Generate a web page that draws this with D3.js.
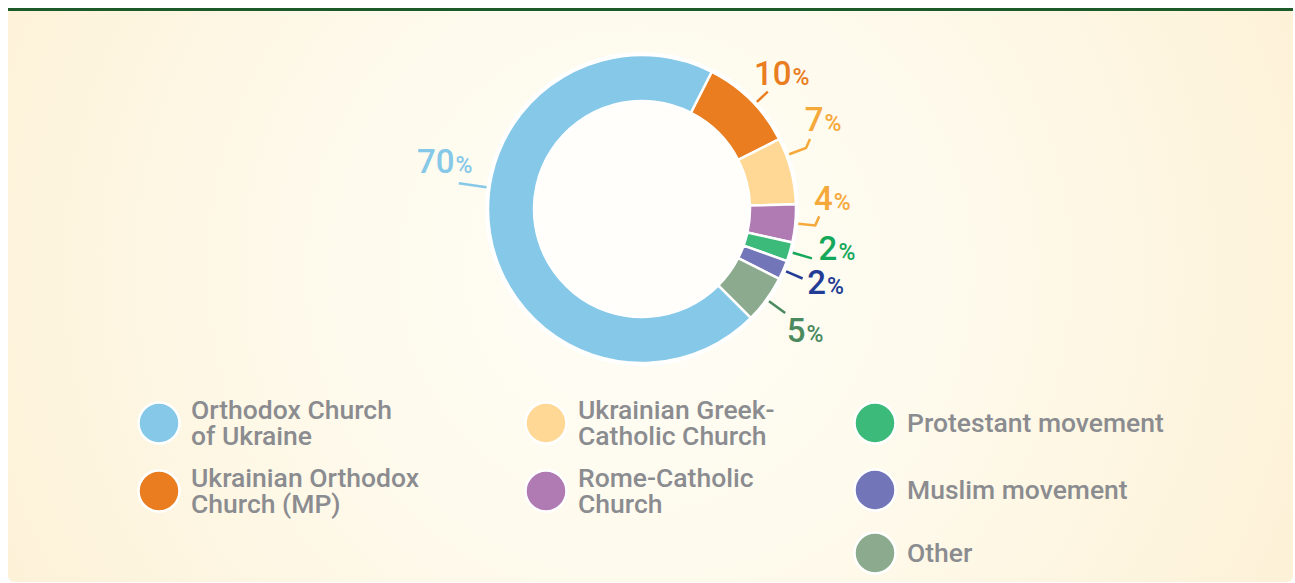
<!DOCTYPE html>
<html>
<head>
  <meta charset="utf-8">
  <title>Religious affiliation donut</title>
  <script src="https://cdnjs.cloudflare.com/ajax/libs/d3/7.8.5/d3.min.js"></script>
</head>
<style>
  body { margin: 0; background: #fff; }
  svg { display: block; font-family: Roboto, "Noto Sans", sans-serif; }
</style>
<body>
<svg id="chart" width="1295" height="583"></svg>
<script type="text/javascript">
// data
const categories = ['Orthodox Church of Ukraine', 'Ukrainian Orthodox Church (MP)', 'Ukrainian Greek-Catholic Church',
  'Rome-Catholic Church', 'Protestant movement', 'Muslim movement', 'Other'];
const values = [70, 10, 7, 4, 2, 2, 5];
const legendLines = [['Orthodox Church', 'of Ukraine'], ['Ukrainian Orthodox', 'Church (MP)'], ['Ukrainian Greek-', 'Catholic Church'],
  ['Rome-Catholic', 'Church'], ['Protestant movement'], ['Muslim movement'], ['Other']];

// styling
const sliceColors = ['#85c8e8', '#e97d1f', '#fed894', '#b07ab3', '#3cba7a', '#7375b9', '#8cab8e'];
const labelColors = ['#85c8e8', '#e97d1f', '#f6a93b', '#f6a93b', '#16a85a', '#233c95', '#4a8a5e'];
// label layout: angle shift (deg), leader length, elbow, text offset from leader end
const labelLayout = [
  {shift: 17, len: 28, elbow: null, dx: -14, dy: -10},
  {shift: 2, len: 15, elbow: null, dx: 14, dy: -7},
  {shift: -6, len: 18, elbow: [4, -9], dx: 13, dy: -8},
  {shift: 0, len: 17, elbow: [4, -9], dx: 13, dy: -6},
  {shift: 0, len: 20, elbow: null, dx: 25, dy: 2},
  {shift: 0, len: 18, elbow: null, dx: 23, dy: 15},
  {shift: 0, len: 20, elbow: null, dx: 20, dy: 29}
];

const W = 1295, H = 583;
const cx = 642, cy = 209;
const outerR = 154, innerR = 108;
const svg = d3.select('#chart');

// background panel
const defs = svg.append('defs');
const grad = defs.append('radialGradient').attr('id', 'bg')
  .attr('gradientUnits', 'userSpaceOnUse')
  .attr('cx', 640).attr('cy', 270).attr('r', 700);
grad.append('stop').attr('offset', '0%').attr('stop-color', '#fffdf7');
grad.append('stop').attr('offset', '45%').attr('stop-color', '#fefaec');
grad.append('stop').attr('offset', '100%').attr('stop-color', '#fdf2d8');

svg.append('rect').attr('x', 8).attr('y', 8).attr('width', 1285).attr('height', 574)
  .attr('rx', 6).attr('fill', 'url(#bg)');
svg.append('rect').attr('x', 8).attr('y', 8).attr('width', 1285).attr('height', 3)
  .attr('fill', '#1d5a2a');

// donut
const pie = d3.pie().sort(null).value(d => d)
  .startAngle(Math.PI * 3 / 4).endAngle(Math.PI * 3 / 4 + Math.PI * 2);
const arcs = pie(values);
const arc = d3.arc().innerRadius(innerR).outerRadius(outerR);

const g = svg.append('g').attr('transform', `translate(${cx},${cy})`);
g.append('circle').attr('r', innerR).attr('fill', '#fffefb');
g.append('circle').attr('r', outerR + 2).attr('fill', 'none').attr('stroke', '#fff').attr('stroke-width', 2);
g.selectAll('path.slice')
  .data(arcs)
  .enter()
  .append('path')
  .attr('class', 'slice')
  .attr('d', arc)
  .attr('fill', (d, i) => sliceColors[i])
  .attr('stroke', '#fff')
  .attr('stroke-width', 2.5)
  .attr('stroke-linejoin', 'round');

// leader lines + labels
const r0 = outerR + 3;
const pt = (a, r) => [Math.sin(a) * r, -Math.cos(a) * r];

arcs.forEach((d, i) => {
  const L = labelLayout[i];
  const a = (d.startAngle + d.endAngle) / 2 + L.shift * Math.PI / 180;
  const p0 = pt(a, r0);
  const p1 = pt(a, r0 + L.len);
  const pts = [p0, p1];
  let end = p1;
  if (L.elbow) {
    end = [p1[0] + L.elbow[0], p1[1] + L.elbow[1]];
    pts.push(end);
  }
  g.append('path')
    .attr('d', d3.line()(pts))
    .attr('fill', 'none')
    .attr('stroke', labelColors[i])
    .attr('stroke-width', 2.5)
    .attr('stroke-linejoin', 'miter');

  const t = g.append('text')
    .attr('x', end[0] + L.dx)
    .attr('y', end[1] + L.dy)
    .attr('text-anchor', 'middle')
    .attr('fill', labelColors[i])
    .attr('font-weight', 500);
  t.append('tspan').attr('font-size', 33).text(values[i]);
  t.append('tspan').attr('font-size', 23).attr('dx', 1).text('%');
});

// legend
const legendCols = [[0, 1], [2, 3], [4, 5, 6]];
const colX = d3.scaleOrdinal().domain([0, 1, 2]).range([159, 546, 875]);
const rowY2 = d3.scaleLinear().domain([0, 1]).range([423, 491]);
const rowY3 = d3.scaleLinear().domain([0, 1, 2]).range([423, 490, 553]);

legendCols.forEach((col, c) => {
  col.forEach((idx, r) => {
    const y = c === 2 ? rowY3(r) : rowY2(r);
    const x = colX(c);
    const lg = svg.append('g').attr('transform', `translate(${x},${y})`);
    lg.append('circle').attr('r', 20.5)
      .attr('fill', sliceColors[idx])
      .attr('stroke', '#fff').attr('stroke-width', 2.5);
    const lines = legendLines[idx];
    const lh = 26;
    const top = -((lines.length - 1) * lh) / 2 + 9;
    const txt = lg.append('text')
      .attr('x', 32)
      .attr('fill', '#8b8c90')
      .attr('font-size', 26.5)
      .attr('font-weight', 500);
    lines.forEach((ln, k) => {
      txt.append('tspan').attr('x', 32).attr('y', top + k * lh).text(ln);
    });
  });
});
</script>
</body>
</html>
